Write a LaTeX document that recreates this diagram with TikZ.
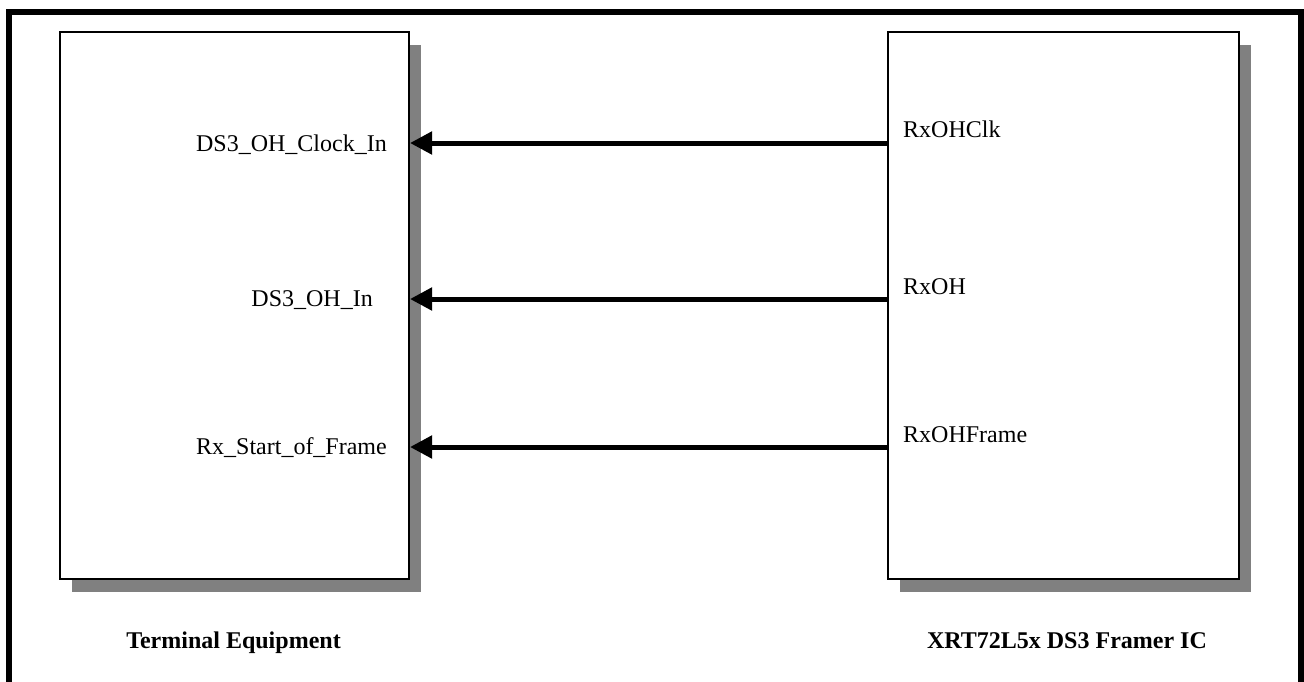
\documentclass[tikz,border=0pt]{standalone}
\usepackage{fontspec}
\setmainfont{Liberation Serif}
\usetikzlibrary{arrows.meta,shadows}
\definecolor{shgray}{RGB}{128,128,128}
\begin{document}
\begin{tikzpicture}[x=1pt,y=-1pt,
  blockbox/.style={draw=black,line width=2pt,fill=white,rectangle,inner sep=0pt,
    drop shadow={shadow xshift=12pt,shadow yshift=-13pt,fill=shgray,opacity=1}},
  sig/.style={line width=5pt,-{Triangle[length=22pt,width=22pt]}},
  lbl/.style={font=\fontsize{24}{28}\selectfont,inner sep=0pt},
  title/.style={font=\fontsize{24}{28}\selectfont\bfseries,inner sep=0pt}]
\useasboundingbox (0,0) rectangle (1304,681);
\clip (0,0) rectangle (1304,681);
\fill[white] (0,0) rectangle (1304,681);
\draw[line width=6pt] (9,720) -- (9,12) -- (1301,12) -- (1301,720);
\node[blockbox,minimum width=349pt,minimum height=547pt] (te) at (234.5,305.5) {};
\node[blockbox,minimum width=351pt,minimum height=547pt] (fr) at (1063.5,305.5) {};
% signal rows
\coordinate (y1) at (0,143);
\coordinate (y2) at (0,299);
\coordinate (y3) at (0,447);
\draw[sig] (fr.west |- y1) -- (te.east |- y1);
\draw[sig] (fr.west |- y2) -- (te.east |- y2);
\draw[sig] (fr.west |- y3) -- (te.east |- y3);
% left labels
\node[lbl,anchor=base east] (l1) at (387,151) {DS3\_OH\_Clock\_In};
\node[lbl,anchor=base east] (l2) at (373,306) {DS3\_OH\_In};
\node[lbl,anchor=base east] (l3) at (387,454) {Rx\_Start\_of\_Frame};
% right labels
\node[lbl,anchor=base west] (r1) at (903,137) {RxOHClk};
\node[lbl,anchor=base west] (r2) at (903,294) {RxOH};
\node[lbl,anchor=base west] (r3) at (903,442) {RxOHFrame};
% titles
\node[title,anchor=base] (t1) at (233.5,648) {Terminal Equipment};
\node[title,anchor=base] (t2) at (1067,648) {XRT72L5x DS3 Framer IC};
\end{tikzpicture}
\end{document}
